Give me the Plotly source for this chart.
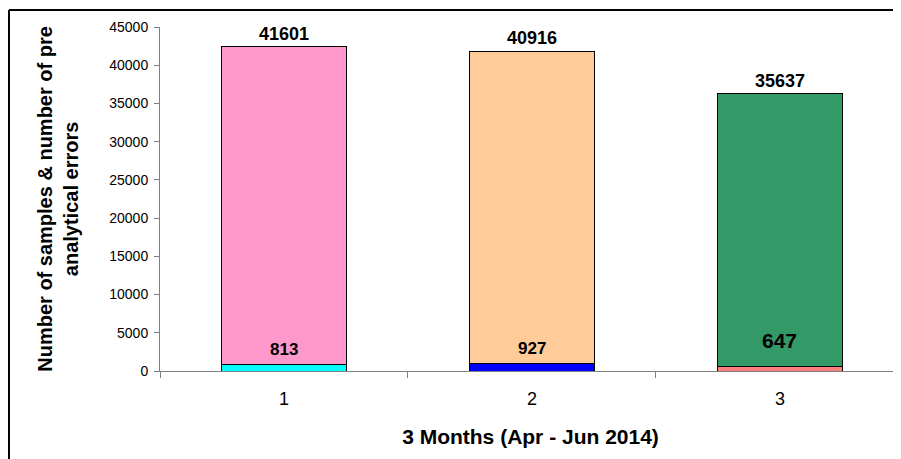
import plotly.graph_objects as go

categories = ["1", "2", "3"]
errors = [813, 927, 647]
samples = [41601, 40916, 35637]
error_colors = ["#00FFFF", "#0000FF", "#FF7F7F"]
sample_colors = ["#FF99CC", "#FFCC99", "#339966"]
error_label_sizes = [17, 17, 21]
error_label_shift = [4, 4, 12]

FONT = "Arial, Liberation Sans, sans-serif"

fig = go.Figure()
fig.add_trace(go.Bar(
    x=categories, y=errors, marker=dict(color=error_colors, line=dict(color="#000000", width=1)),
    width=0.504, showlegend=False, hoverinfo="y"))
fig.add_trace(go.Bar(
    x=categories, y=samples, marker=dict(color=sample_colors, line=dict(color="#000000", width=1)),
    width=0.504, showlegend=False, text=[str(v) for v in samples], textposition="outside",
    textfont=dict(family=FONT, size=18, color="#000000", weight="bold"), cliponaxis=False,
    hoverinfo="y"))

for i, (e, s, sh) in enumerate(zip(errors, error_label_sizes, error_label_shift)):
    fig.add_annotation(x=i, y=e, xref="x", yref="y", text="<b>%d</b>" % e, showarrow=False,
                       yanchor="bottom", yshift=sh,
                       font=dict(family=FONT, size=s, color="#000000"))

fig.add_annotation(x=-0.138, y=0.5, xref="paper", yref="paper",
                   text="<b>Number of samples &amp; number of pre<br>analytical errors</b>",
                   textangle=-90, showarrow=False, xanchor="center", yanchor="middle",
                   font=dict(family=FONT, size=20, color="#000000"))

# frame lines around chart
fig.add_shape(type="line", xref="paper", yref="paper", x0=-0.2038, x1=1.02, y0=1.0494, y1=1.0494,
              line=dict(color="#000000", width=2))
fig.add_shape(type="line", xref="paper", yref="paper", x0=-0.2038, x1=-0.2038, y0=1.0494, y1=-0.3,
              line=dict(color="#000000", width=2))

fig.update_layout(
    barmode="stack",
    width=893, height=451,
    margin=dict(l=152, r=0, t=19, b=88, autoexpand=False),
    plot_bgcolor="#FFFFFF", paper_bgcolor="#FFFFFF",
    font=dict(family=FONT, color="#000000"),
    xaxis=dict(type="category", range=[-0.5, 2.488], showline=True, linecolor="#808080", linewidth=1,
               ticks="outside", tickson="boundaries", ticklen=6, tickcolor="#808080",
               showgrid=False, zeroline=False, ticklabelstandoff=11,
               tickfont=dict(family=FONT, size=18, color="#000000"),
               title=dict(text="<b>3 Months (Apr - Jun 2014)</b>", standoff=21,
                          font=dict(family=FONT, size=21, color="#000000"))),
    yaxis=dict(range=[0, 45000], dtick=5000, tickformat="d", showline=True, linecolor="#808080",
               linewidth=1, ticks="outside", ticklen=5, tickcolor="#808080", showgrid=False,
               zeroline=False, ticklabelstandoff=3,
               tickfont=dict(family=FONT, size=14, color="#000000")),
)

fig.write_html("out.html")
